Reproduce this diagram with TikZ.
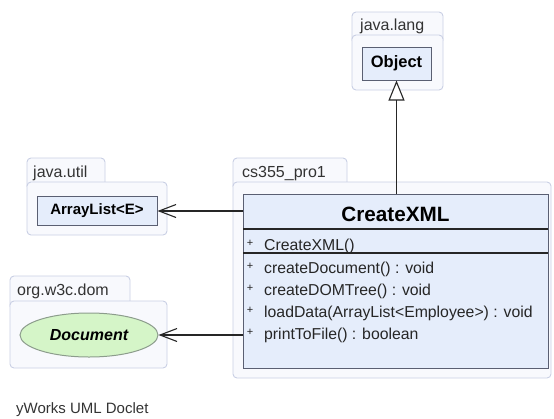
\documentclass[tikz,border=0pt]{standalone}
\usepackage{fontspec}
\setmainfont{Liberation Sans}
\usetikzlibrary{arrows.meta,shapes.geometric}

\definecolor{pkgfill}{HTML}{F8F9FD}
\definecolor{pkgline}{HTML}{C9CFE4}
\definecolor{clsfill}{HTML}{E5EDFB}
\definecolor{clsline}{HTML}{5A5F72}
\definecolor{ifcfill}{HTML}{D5F5C8}
\definecolor{ifcline}{HTML}{8C9C8C}
\definecolor{lbl}{HTML}{333333}

\tikzset{
  pkgpart/.style={draw=pkgline, fill=pkgfill, line width=0.9pt, rounded corners=4pt},
  pkglabel/.style={anchor=base west, inner sep=0pt, text=lbl, font=\fontsize{16}{18}\selectfont},
  classbox/.style={draw=clsline, fill=clsfill, line width=1pt, inner sep=0pt,
    font=\fontsize{15}{17}\selectfont\bfseries},
  ifcbox/.style={ellipse, draw=ifcline, fill=ifcfill, line width=1pt, inner sep=0pt,
    font=\fontsize{16}{18}\selectfont\bfseries\itshape},
  divider/.style={draw=black!85, line width=1.1pt},
  member/.style={anchor=base west, inner sep=0pt, font=\fontsize{15.8}{18}\selectfont, text=black!85},
  vis/.style={anchor=base, inner sep=0pt, font=\fontsize{11}{12}\selectfont, text=black!85},
  dep/.style={draw=black!85, line width=1.2pt, -{Straight Barb[length=17pt,width=13pt,line width=1.1pt]}},
  gen/.style={draw=black!85, line width=1.2pt, -{Triangle[length=20pt,width=16pt,fill=white,line width=1.1pt]}},
}

\begin{document}
\begin{tikzpicture}[x=1pt, y=-1pt]
  \useasboundingbox (0,0) rectangle (554,418);

  % package java.lang
  \draw[pkgpart] (352,44) rectangle (443,12);
  \draw[pkgpart] (352,35) rectangle (443,90);
  \node[pkglabel] (lblLang) at (360,30) {java.lang};

  % package java.util
  \draw[pkgpart] (27,190) rectangle (105,158);
  \draw[pkgpart] (27,182) rectangle (167,235);
  \node[pkglabel] (lblUtil) at (33,177) {java.util};

  % package org.w3c.dom
  \draw[pkgpart] (10,310) rectangle (130,276);
  \draw[pkgpart] (10,301) rectangle (167,368);
  \node[pkglabel] (lblDom) at (17,295) {org.w3c.dom};

  % package cs355_pro1
  \draw[pkgpart] (233,190) rectangle (347,158);
  \draw[pkgpart] (233,182) rectangle (551,378);
  \node[pkglabel] (lblPro) at (242,177) {cs355\_pro1};

  % external classes
  \node[classbox, minimum width=69pt, minimum height=33pt,
        font=\fontsize{16.5}{18}\selectfont\bfseries] (obj) at (396.5,63.5) {Object};
  \node[classbox, minimum width=120pt, minimum height=29pt] (al) at (97,211) {ArrayList<E>};
  \node[ifcbox, minimum width=138pt, minimum height=44pt] (doc) at (89,335) {Document};

  % class CreateXML
  \node[draw=clsline, fill=clsfill, line width=1.1pt, minimum width=305pt, minimum height=174pt,
        inner sep=0pt, anchor=north west] (cx) at (243,194) {};
  \node[anchor=base, inner sep=0pt, font=\fontsize{20.7}{24}\selectfont\bfseries] (title)
        at (395.5,221) {CreateXML};
  \draw[divider] (243,229) -- (548,229);
  \draw[divider] (243,253) -- (548,253);

  \node[vis] (v0) at (250,246) {+};
  \node[member] (m0) at (264,250) {CreateXML()};
  \node[vis] (v1) at (250,269) {+};
  \node[member] (m1) at (264,273) {createDocument() : void};
  \node[vis] (v2) at (250,291) {+};
  \node[member] (m2) at (264,295) {createDOMTree() : void};
  \node[vis] (v3) at (250,313) {+};
  \node[member] (m3) at (264,317) {loadData(ArrayList<Employee>) : void};
  \node[vis] (v4) at (250,335) {+};
  \node[member] (m4) at (264,339) {printToFile() : boolean};

  % relations
  \draw[gen] (obj.south |- cx.north) -- (obj.south);
  \draw[dep] (cx.west |- al.east) -- (al.east);
  \draw[dep] (cx.west |- doc.east) -- (doc.east);

  \node[anchor=base west, inner sep=0pt, text=lbl, font=\fontsize{15}{17}\selectfont] (credit)
        at (16,413) {yWorks UML Doclet};
\end{tikzpicture}
\end{document}
